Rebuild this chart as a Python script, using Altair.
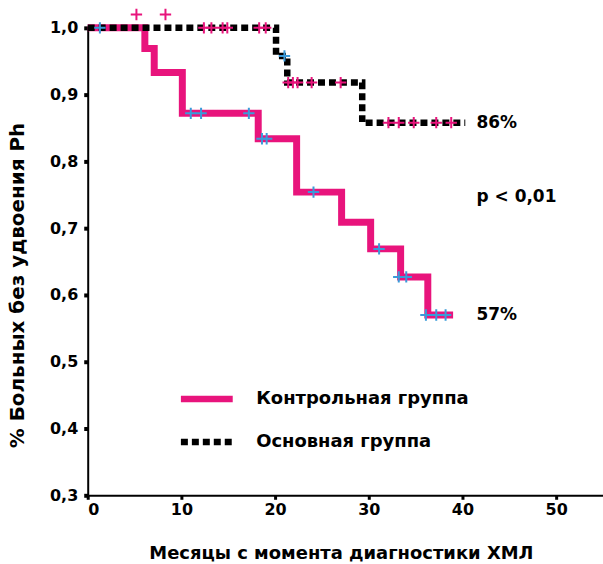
import altair as alt
import pandas as pd

groups = ["Контрольная группа", "Основная группа"]

# Kaplan-Meier curves (month where the level starts, survival level)
ctrl_month = [0, 6.1, 7.1, 10.1, 18.2, 22.3, 27.1, 30.2, 33.4, 36.3, 39.0]
ctrl_surv = [1.0, 0.969, 0.933, 0.872, 0.834, 0.754, 0.709, 0.669, 0.627, 0.570, 0.570]
main_month = [0, 20.1, 21.3, 29.3, 40.3]
main_surv = [1.0, 0.958, 0.918, 0.858, 0.858]

# censored observations
ctrl_cens_month = [1.3, 11.0, 12.1, 17.2, 18.6, 19.1, 21.0, 24.1, 31.1, 33.2, 34.0, 36.1, 37.2, 38.2]
ctrl_cens_surv = [1.0, 0.872, 0.872, 0.872, 0.834, 0.834, 0.958, 0.754, 0.669, 0.627, 0.627, 0.570, 0.570, 0.570]
main_cens_month = [5.2, 8.3, 12.4, 13.2, 14.4, 14.9, 18.3, 19.0, 21.4, 21.9, 22.4, 23.9, 27.0,
                   32.1, 33.2, 34.8, 37.2, 38.8]
main_cens_surv = [1.02, 1.02, 1.0, 1.0, 1.0, 1.0, 1.0, 1.0, 0.918, 0.918, 0.918, 0.918, 0.918,
                  0.858, 0.858, 0.858, 0.858, 0.858]

# annotations
ann_month = [41.5, 41.5, 41.5]
ann_surv = [0.858, 0.746, 0.570]
ann_text = ["86%", "p < 0,01", "57%"]

x_ticks = [0, 10, 20, 30, 40, 50]
y_ticks = [0.3, 0.4, 0.5, 0.6, 0.7, 0.8, 0.9, 1.0]

PINK = "#e8147c"
BLUE = "#3a9ad9"
FONT = "DejaVu Sans"

ctrl_df = pd.DataFrame({"month": ctrl_month, "surv": ctrl_surv, "group": groups[0]})
main_df = pd.DataFrame({"month": main_month, "surv": main_surv, "group": groups[1]})
ctrl_c = pd.DataFrame({"month": ctrl_cens_month, "surv": ctrl_cens_surv})
main_c = pd.DataFrame({"month": main_cens_month, "surv": main_cens_surv})
ann_df = pd.DataFrame({"month": ann_month, "surv": ann_surv, "text": ann_text})

x_enc = alt.X(
    "month:Q",
    scale=alt.Scale(domain=[0, 55], nice=False),
    axis=alt.Axis(
        values=x_ticks, title="Месяцы с момента диагностики ХМЛ", grid=False,
        titleX=254, titleY=49, titleBaseline="top", titleAlign="center",
        labelPadding=2, tickSize=4, tickWidth=3,
    ),
)
y_enc = alt.Y(
    "surv:Q",
    scale=alt.Scale(domain=[0.3, 1.0], nice=False, zero=False),
    axis=alt.Axis(
        values=y_ticks, title="% Больных без удвоения Ph", grid=False,
        labelExpr="replace(format(datum.value, '.1f'), '.', ',')",
        titleX=-70, titleY=258, titleAngle=-90, titleAlign="center", titleBaseline="middle",
        titleFontSize=20, labelPadding=6, tickSize=4, tickWidth=4,
    ),
)

legend = alt.Legend(
    title=None, orient="none", legendX=90, legendY=343, symbolType="stroke",
    symbolSize=2704, symbolStrokeWidth=6.5, labelFont=FONT, labelFontSize=18,
    labelFontWeight="bold", labelColor="black", labelOffset=20, rowPadding=-7,
    labelLimit=400,
)
color_scale = alt.Scale(domain=groups, range=[PINK, "black"])
dash_scale = alt.Scale(domain=groups, range=[[1, 0], [7, 4]])

ctrl_line = alt.Chart(ctrl_df).mark_line(interpolate="step-after", strokeWidth=7).encode(
    x=x_enc, y=y_enc,
    color=alt.Color("group:N", scale=color_scale, legend=legend),
    strokeDash=alt.StrokeDash("group:N", scale=dash_scale, legend=legend),
)
main_line = alt.Chart(main_df).mark_line(interpolate="step-after", strokeWidth=6.5).encode(
    x=x_enc, y=y_enc,
    color=alt.Color("group:N", scale=color_scale, legend=legend),
    strokeDash=alt.StrokeDash("group:N", scale=dash_scale, legend=legend),
)

cross = "M-1,0H1M0,-1V1"
ctrl_pts = alt.Chart(ctrl_c).mark_point(shape=cross, filled=False, size=130, strokeWidth=2, color=BLUE, opacity=1).encode(
    x="month:Q", y="surv:Q")
main_pts = alt.Chart(main_c).mark_point(shape=cross, filled=False, size=130, strokeWidth=2, color=PINK, opacity=1).encode(
    x="month:Q", y="surv:Q")

ann = alt.Chart(ann_df).mark_text(align="left", baseline="middle", font=FONT, fontSize=17,
                                  fontWeight="bold", color="black").encode(
    x="month:Q", y="surv:Q", text="text:N")

chart = alt.layer(ctrl_line, main_line, ctrl_pts, main_pts, ann).properties(
    width=517, height=469, autosize="none",
    padding={"left": 88, "top": 27, "right": 0, "bottom": 68},
).configure_view(stroke=None).configure_axis(
    domainColor="black", domainWidth=2, tickColor="black",
    labelFont=FONT, labelFontSize=16, labelFontWeight="bold", labelColor="black",
    titleFont=FONT, titleFontSize=18, titleFontWeight="bold", titleColor="black",
)

chart.save("out.html", embed_options={"renderer": "svg", "actions": False})
